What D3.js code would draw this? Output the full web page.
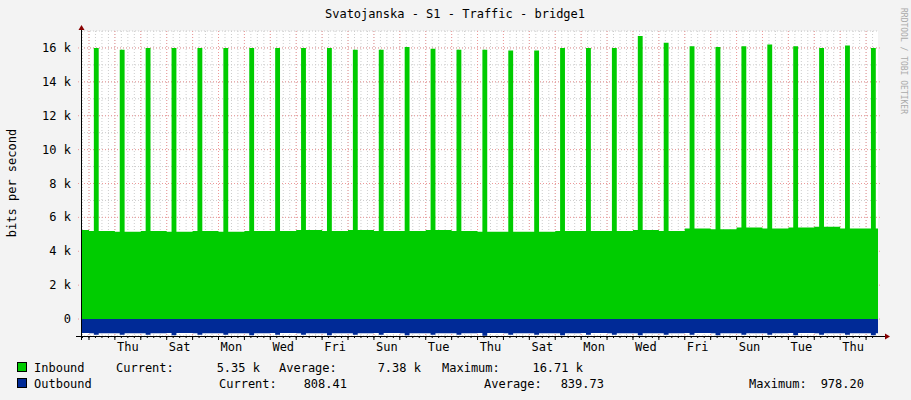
<!DOCTYPE html>
<html><head><meta charset="utf-8">
<script src="https://cdn.jsdelivr.net/npm/d3@7"></script>
<style>
body{margin:0;background:#f3f3f3}
text{font-family:"DejaVu Sans Mono",monospace;fill:#000}
</style></head>
<body><svg id="chart" width="911" height="400"></svg>
<script>
// daily spike peaks (bits/s), one per day starting Wed
var spikes = [16000,15900,16000,16000,16000,16000,16000,16000,16000,16000,15900,15900,16050,15950,15900,15900,15850,15850,16000,16000,16000,16710,16300,16100,16050,16100,16200,16100,16000,16150,16000];
// inbound baseline per day (first = partial day before the first midnight)
var inBase = [5250,5200,5150,5200,5150,5200,5150,5200,5200,5250,5200,5250,5200,5200,5250,5200,5150,5150,5150,5200,5200,5200,5250,5200,5350,5300,5400,5350,5400,5450,5350,5350];
// outbound per day (negative, plotted below zero) and its spikes
var outBase = [-830,-840,-835,-840,-830,-840,-835,-840,-830,-840,-835,-840,-830,-840,-835,-840,-830,-840,-835,-840,-830,-840,-835,-840,-830,-840,-835,-840,-830,-840,-835,-840];
var outSpike = [-930,-930,-930,-960,-930,-930,-960,-930,-930,-960,-930,-930,-960,-930,-930,-978,-930,-930,-960,-930,-930,-960,-930,-930,-960,-930,-930,-960,-930,-930,-960];
var yTicks = [0,2000,4000,6000,8000,10000,12000,14000,16000];
var yTickLabels = ["0","2 k","4 k","6 k","8 k","10 k","12 k","14 k","16 k"];
var dayNames = ["Thu","Sat","Mon","Wed","Fri","Sun","Tue","Thu","Sat","Mon","Wed","Fri","Sun","Tue","Thu"];

var H = 3600e3, D = 24 * H;
var day0 = new Date(2023, 2, 1).getTime(); // a Wednesday
var t0 = day0 - 7.4 * H, t1 = day0 + 30.46 * D;

var svg = d3.select("#chart");
var x = d3.scaleTime().domain([t0, t1]).range([81, 878]);
var y = d3.scaleLinear().domain([-1000, 17000]).range([336, 31]);

svg.append("rect").attr("x", 81).attr("y", 31).attr("width", 797).attr("height", 305).attr("fill", "#fff");
svg.append("clipPath").attr("id", "clip").append("rect").attr("x", 81).attr("y", 20).attr("width", 797).attr("height", 316);

// grid (behind data)
var g = svg.append("g");
d3.range(day0 - 6 * H, t1, 6 * H).filter(function(t){return t > t0;}).forEach(function(t){
  g.append("line").attr("x1", x(t)).attr("x2", x(t)).attr("y1", 31).attr("y2", 336)
    .attr("stroke", "#ccc").attr("stroke-dasharray", "1,2");
});
d3.range(-1000, 17001, 1000).forEach(function(v){
  g.append("line").attr("x1", 81).attr("x2", 878).attr("y1", y(v)).attr("y2", y(v))
    .attr("stroke", "#ccc").attr("stroke-dasharray", "1,2");
});
d3.range(day0, t1, D).forEach(function(t){
  g.append("line").attr("x1", x(t)).attr("x2", x(t)).attr("y1", 31).attr("y2", 336)
    .attr("stroke", "#e99").attr("stroke-dasharray", "1,2");
});
yTicks.forEach(function(v, i){
  g.append("line").attr("x1", 78).attr("x2", 881).attr("y1", y(v)).attr("y2", y(v))
    .attr("stroke", "#e99").attr("stroke-dasharray", "1,2");
  svg.append("text").attr("x", 71).attr("y", y(v) + 4).attr("text-anchor", "end")
    .attr("font-size", 12).text(yTickLabels[i]);
});

// build step series
var inPts = [], outPts = [];
inPts.push([t0, inBase[0]]); outPts.push([t0, outBase[0]]);
for (var i = 0; i < spikes.length; i++) {
  var d = day0 + i * D;
  inPts.push([d, inBase[i + 1]]); outPts.push([d, outBase[i + 1]]);
  inPts.push([d + 4.5 * H, spikes[i]]); outPts.push([d + 4.5 * H, outSpike[i]]);
  inPts.push([d + 9 * H, inBase[i + 1]]); outPts.push([d + 9 * H, outBase[i + 1]]);
}
inPts.push([t1, inBase[inBase.length - 1]]); outPts.push([t1, outBase[outBase.length - 1]]);

var data = svg.append("g").attr("clip-path", "url(#clip)");
data.append("path").datum(inPts).attr("fill", "#00cc00")
  .attr("d", d3.area().curve(d3.curveStepAfter).x(function(d){return x(d[0]);}).y0(y(0)).y1(function(d){return y(d[1]);}));
data.append("path").datum(outPts).attr("fill", "#002a97")
  .attr("d", d3.area().curve(d3.curveStepAfter).x(function(d){return x(d[0]);}).y0(y(0)).y1(function(d){return y(d[1]);}));

// axes
svg.append("line").attr("x1", 76).attr("x2", 885).attr("y1", 336.5).attr("y2", 336.5).attr("stroke", "#000");
svg.append("line").attr("x1", 81.5).attr("x2", 81.5).attr("y1", 340).attr("y2", 28).attr("stroke", "#000");
svg.append("path").attr("d", "M885,333.5L890,336.5L885,339.5Z").attr("fill", "#800");
svg.append("path").attr("d", "M78.5,30L81.5,25L84.5,30Z").attr("fill", "#800");
d3.range(day0 - 6 * H, t1, 6 * H).filter(function(t){return t > t0;}).forEach(function(t){
  svg.append("line").attr("x1", x(t)).attr("x2", x(t)).attr("y1", 336).attr("y2", 338).attr("stroke", "#000");
});
d3.range(day0, t1, D).forEach(function(t){
  svg.append("line").attr("x1", x(t)).attr("x2", x(t)).attr("y1", 336).attr("y2", 340).attr("stroke", "#000");
});
dayNames.forEach(function(n, i){
  svg.append("text").attr("x", x(day0 + (1 + 2 * i) * D + 12 * H)).attr("y", 351)
    .attr("text-anchor", "middle").attr("font-size", 12).text(n);
});

// titles
svg.append("text").attr("x", 455).attr("y", 18).attr("text-anchor", "middle").attr("font-size", 12)
  .text("Svatojanska - S1 - Traffic - bridge1");
svg.append("text").attr("transform", "translate(16,183) rotate(-90)").attr("text-anchor", "middle")
  .attr("font-size", 12).text("bits per second");
svg.append("text").attr("transform", "translate(901,8) rotate(90)").attr("font-size", 8)
  .style("fill", "#aaa").text("RRDTOOL / TOBI OETIKER");

// legend
svg.append("rect").attr("x", 17.5).attr("y", 362.5).attr("width", 9).attr("height", 9).attr("fill", "#00cc00").attr("stroke", "#000");
svg.append("rect").attr("x", 17.5).attr("y", 378.5).attr("width", 9).attr("height", 9).attr("fill", "#002a97").attr("stroke", "#000");
var leg = [
  [34, 372, "Inbound", "start"], [116, 372, "Current:", "start"], [260, 372, "5.35 k", "end"],
  [279, 372, "Average:", "start"], [421, 372, "7.38 k", "end"], [442, 372, "Maximum:", "start"], [583, 372, "16.71 k", "end"],
  [34, 388, "Outbound", "start"], [219, 388, "Current:", "start"], [347, 388, "808.41", "end"],
  [484, 388, "Average:", "start"], [604, 388, "839.73", "end"], [749, 388, "Maximum:", "start"], [864, 388, "978.20", "end"]
];
leg.forEach(function(l){
  svg.append("text").attr("x", l[0]).attr("y", l[1]).attr("text-anchor", l[3]).attr("font-size", 12).text(l[2]);
});
</script></body></html>
